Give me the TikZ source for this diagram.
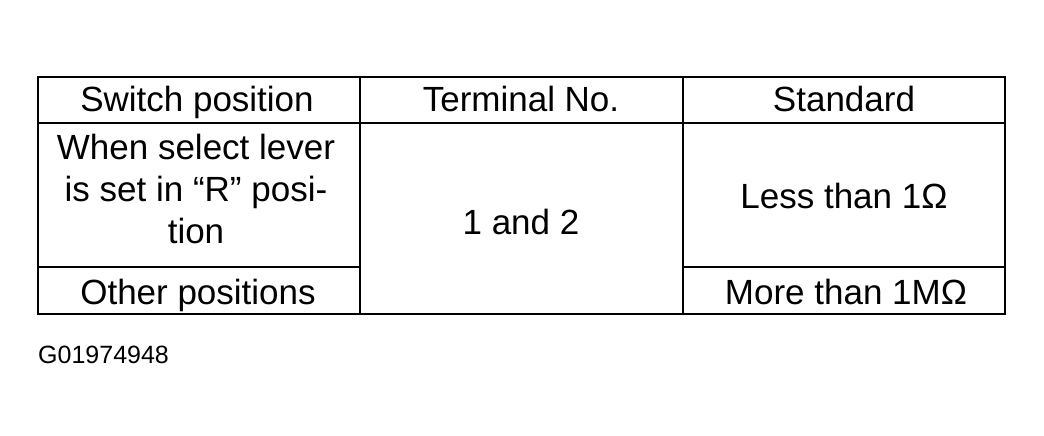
\documentclass[tikz,border=0pt]{standalone}
\usepackage{fontspec}
\setmainfont{Liberation Sans}
\begin{document}
\begin{tikzpicture}[x=1pt,y=-1pt,
  cell/.style={font=\fontsize{35}{42}\selectfont, align=center, inner sep=0pt, anchor=base},
  rule/.style={line width=2pt}]
\useasboundingbox (0,0) rectangle (1044,436);

%Frame and rules
\draw [rule] (38,77) rectangle (1005,314);
\draw [rule] (38,123) -- (1005,123);
\draw [rule] (38,267) -- (360,267);
\draw [rule] (683,267) -- (1005,267);
\draw [rule] (360,77) -- (360,314);
\draw [rule] (683,77) -- (683,314);

%Header
\node [cell] (hswitch) at (197,111) {Switch position};
\node [cell] (hterm) at (521,111) {Terminal No.};
\node [cell] (hstd) at (844,111) {Standard};

%Rows
\node [cell, anchor=north] (rlever) at (196,134) {When select lever\\is set in “R” posi-\\tion};
\node [cell] (rterm) at (521,234) {1 and 2};
\node [cell] (rless) at (844,208) {Less than 1Ω};
\node [cell] (rother) at (198,304) {Other positions};
\node [cell] (rmore) at (846,304) {More than 1MΩ};

%Figure id
\node [font=\fontsize{25}{30}\selectfont, anchor=base west, inner sep=0pt] (figid) at (38,363) {G01974948};
\end{tikzpicture}
\end{document}
